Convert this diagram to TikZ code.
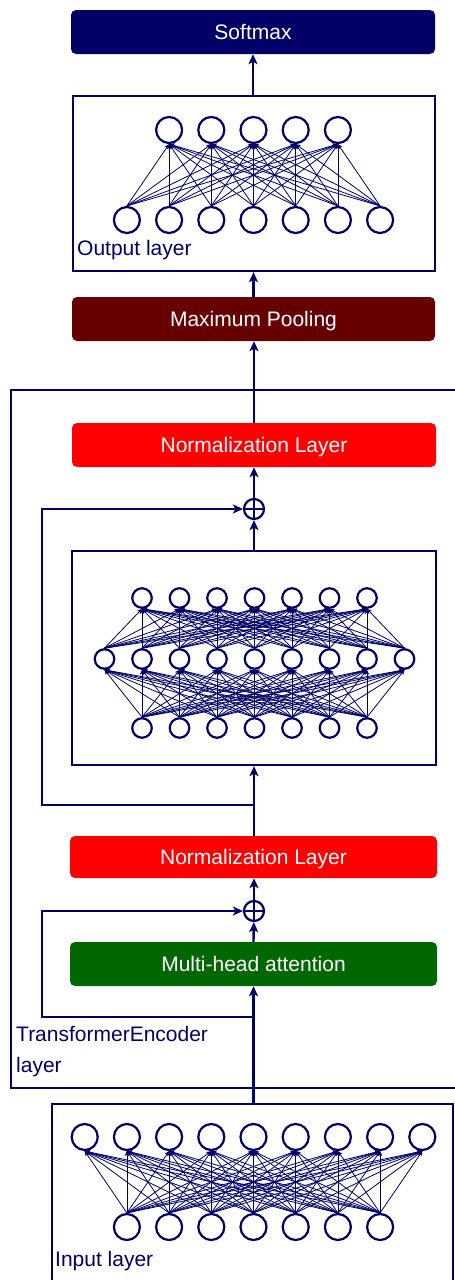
\documentclass[tikz,border=0pt]{standalone}
\usepackage{fontspec}
\setmainfont{Liberation Sans}
\usetikzlibrary{arrows.meta}

\definecolor{inkblue}{RGB}{0,0,102}
\definecolor{poolred}{RGB}{102,0,0}
\definecolor{normred}{RGB}{255,0,0}
\definecolor{attgreen}{RGB}{0,102,0}

\begin{document}
\begin{tikzpicture}[
        x=1pt, y=-1pt,
        every node/.style={font=\fontsize{21}{31}\selectfont},
        block/.style={rectangle, rounded corners=5pt, text=white, minimum width=364pt, minimum height=44pt, inner sep=0pt, text height=15pt, text depth=0pt},
        netbox/.style={rectangle, draw=inkblue, line width=2.3pt, inner sep=0pt},
        unit/.style={circle, draw=inkblue, line width=2.2pt, minimum size=26pt, inner sep=0pt},
        smallunit/.style={unit, minimum size=19.5pt},
        adder/.style={circle, draw=inkblue, line width=2.2pt, minimum size=20pt, inner sep=0pt,
            path picture={\draw[inkblue, line width=2pt] (path picture bounding box.north) -- (path picture bounding box.south)
                (path picture bounding box.west) -- (path picture bounding box.east);}},
        link/.style={draw=inkblue, line width=0.8pt, -{Stealth[length=5pt,width=4.5pt]}},
        flow/.style={draw=inkblue, line width=2.4pt, -{Stealth[length=10pt,width=9pt,inset=2.5pt]}},
        wire/.style={draw=inkblue, line width=2.3pt},
        caption/.style={text=inkblue, inner sep=0pt}
    ]
        \useasboundingbox (0,0) rectangle (455,1280);

        % Blocks on the main path
        \node[block, fill=inkblue] (softmax) at (253,32) {Softmax};
        \node[block, fill=poolred, minimum width=363pt] (pool) at (253.5,319) {Maximum Pooling};
        \node[block, fill=normred] (norm1) at (254,445) {Normalization Layer};
        \node[adder] (add1) at (254,509) {};
        \node[block, fill=normred, minimum width=367pt, minimum height=42pt] (norm2) at (253.5,857) {Normalization Layer};
        \node[adder] (add2) at (254,911) {};
        \node[block, fill=attgreen, minimum width=367pt] (mha) at (253.5,964) {Multi-head attention};

        % Boxes holding the dense layers
        \node[netbox, minimum width=362pt, minimum height=175pt] (outbox) at (254,183.5) {};
        \node[netbox, minimum width=364pt, minimum height=214pt] (ffnbox) at (254,658) {};
        \node[netbox, minimum width=401pt, minimum height=196pt] (inbox) at (252.5,1202) {};

        % Encoder frame, open to the right
        \draw[wire] (480,390) -- (11,390) -- (11,1088) -- (480,1088);
        \node[caption, anchor=north west, align=left] (enclabel) at (16,1026) {TransformerEncoder\\layer};

        % Output layer: 7 -> 5
        \foreach \i in {1,...,5}
            \node[unit] (o1\i) at ({253.5+(\i-3)*42.2},130) {};
        \foreach \i in {1,...,7}
            \node[unit] (o0\i) at ({253.5+(\i-4)*42.2},220) {};
        \foreach \i in {1,...,7}
            \foreach \j in {1,...,5}
                \draw[link] (o0\i.north) -- (o1\j.south);
        \node[caption, anchor=west] (outlabel) at (77,250) {Output layer};

        % Feed forward block: 7 -> 9 -> 7
        \foreach \i in {1,...,7}
            \node[smallunit] (f2\i) at ({254.5+(\i-4)*37.5},598) {};
        \foreach \i in {1,...,9}
            \node[smallunit] (f1\i) at ({254.5+(\i-5)*37.5},659) {};
        \foreach \i in {1,...,7}
            \node[smallunit] (f0\i) at ({254.5+(\i-4)*37.5},728) {};
        \foreach \i in {1,...,7}
            \foreach \j in {1,...,9}
                \draw[link] (f0\i.north) -- (f1\j.south);
        \foreach \i in {1,...,9}
            \foreach \j in {1,...,7}
                \draw[link] (f1\i.north) -- (f2\j.south);

        % Input layer: 7 -> 9
        \foreach \i in {1,...,9}
            \node[unit] (i1\i) at ({253.5+(\i-5)*42.2},1137) {};
        \foreach \i in {1,...,7}
            \node[unit] (i0\i) at ({253.5+(\i-4)*42.2},1227) {};
        \foreach \i in {1,...,7}
            \foreach \j in {1,...,9}
                \draw[link] (i0\i.north) -- (i1\j.south);
        \node[caption, anchor=west] (inlabel) at (55,1261) {Input layer};

        % Main path
        \draw[flow] (mha.south |- inbox.north) -- (mha.south);
        \draw[flow] (mha.north) -- (add2);
        \draw[flow] (add2) -- (add2 |- norm2.south);
        \draw[flow] (add1 |- norm2.north) -- (add1 |- ffnbox.south);
        \draw[flow] (add1 |- ffnbox.north) -- (add1);
        \draw[flow] (add1) -- (add1 |- norm1.south);
        \draw[flow] (add1 |- norm1.north) -- (add1 |- pool.south);
        \draw[flow] (pool.north) -- (pool.north |- outbox.south);
        \draw[flow] (softmax.south |- outbox.north) -- (softmax.south);

        % Residual branches
        \coordinate (br1) at (254,1017);
        \coordinate (br2) at (254,805);
        \draw[flow] (br1) -- (42,1017) |- (add2);
        \draw[flow] (br2) -- (42,805) |- (add1);
\end{tikzpicture}
\end{document}
